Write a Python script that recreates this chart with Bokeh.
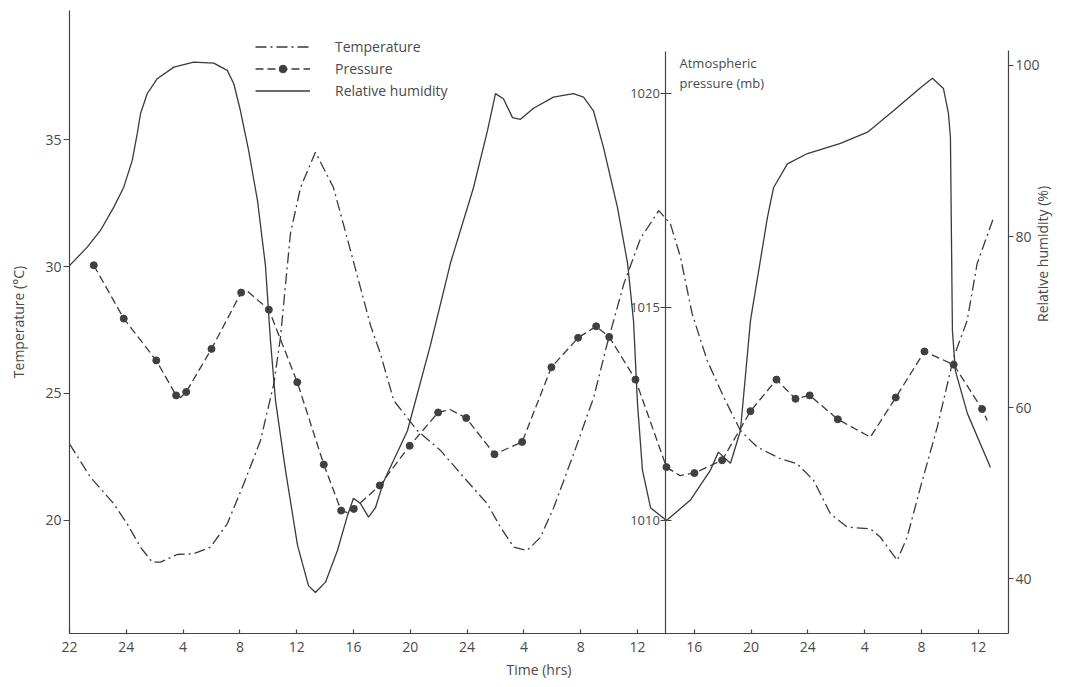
import math
from bokeh.plotting import figure
from bokeh.models import Range1d, LinearAxis, FixedTicker, Label, Legend, LegendItem
from bokeh.embed import file_html
from bokeh.resources import INLINE

# ---------------- data (hours from the first tick, 4 h per tick) ----------------
tick_hours = [0, 4, 8, 12, 16, 20, 24, 28, 32, 36, 40, 44, 48, 52, 56, 60, 64]
tick_labels = ["22", "24", "4", "8", "12", "16", "20", "24", "4", "8", "12", "16", "20", "24", "4", "8", "12"]

temp_hours = [0, 1.48, 3.10, 4.06, 5.0, 5.82, 6.41, 7.58, 8.75, 9.93, 11.11, 12.27, 13.45, 14.39, 14.86,
              15.56, 16.27, 17.32, 18.59, 19.79, 20.49, 21.20, 21.90, 22.84, 24.49, 26.13, 27.77, 29.42,
              30.35, 31.29, 32.23, 33.17, 34.11, 35.51, 36.92, 37.87, 39.04, 40.21, 41.50, 42.32, 43.03,
              43.85, 44.91, 46.08, 47.25, 48.43, 50.07, 51.25, 52.42, 53.59, 54.77, 56.41, 57.11, 58.29,
              58.99, 59.93, 61.11, 62.27, 63.22, 63.92, 65.09]
temp_c = [23.02, 21.70, 20.67, 19.87, 18.95, 18.36, 18.36, 18.66, 18.69, 18.95, 19.87, 21.44, 23.15, 25.38, 27.22,
          31.30, 33.11, 34.50, 33.11, 30.63, 29.17, 27.68, 26.56, 24.72, 23.54, 22.76, 21.70, 20.66,
          19.74, 18.95, 18.82, 19.34, 20.52, 22.63, 24.85, 26.96, 29.32, 31.10, 32.20, 31.68, 30.37,
          28.14, 26.30, 24.85, 23.54, 22.89, 22.43, 22.23, 21.57, 20.26, 19.74, 19.67, 19.34, 18.43,
          19.34, 21.31, 23.67, 26.43, 27.87, 30.11, 31.94]

press_hours = [1.71, 3.82, 6.11, 7.51, 8.22, 10.0, 12.09, 14.04, 16.04, 17.91, 19.13, 20.02, 21.85, 23.96,
               25.96, 27.94, 29.93, 31.88, 33.94, 35.82, 37.09, 38.01, 39.86, 42.04, 44.01, 45.96, 47.96,
               49.79, 51.13, 52.13, 54.11, 58.19, 60.21, 62.27, 64.27]
press_mb = [1015.98, 1014.73, 1013.75, 1012.93, 1013.01, 1014.02, 1015.34, 1014.94, 1013.24, 1011.31, 1010.23,
            1010.27, 1010.82, 1011.75, 1012.53, 1012.40, 1011.55, 1011.84, 1013.59, 1014.28, 1014.55, 1014.30,
            1013.30, 1011.25, 1011.11, 1011.41, 1012.56, 1013.30, 1012.85, 1012.93, 1012.37, 1012.88, 1013.96,
            1013.65, 1012.61]

press_line_hours = [1.71, 3.82, 6.11, 7.51, 7.82, 8.22, 10.0, 12.09, 12.5, 14.04, 16.04, 17.91, 19.13, 19.6,
                    20.02, 21.85, 23.96, 25.96, 26.8, 27.94, 29.93, 31.88, 33.94, 35.82, 37.09, 38.01, 39.86,
                    42.04, 43.0, 44.01, 45.96, 47.96, 49.79, 51.13, 52.13, 54.11, 56.4, 58.19, 60.21, 62.27,
                    64.27, 64.63]
press_line_mb = [1015.98, 1014.73, 1013.75, 1012.93, 1012.88, 1013.01, 1014.02, 1015.34, 1015.38, 1014.94,
                 1013.24, 1011.31, 1010.23, 1010.18, 1010.27, 1010.82, 1011.75, 1012.53, 1012.60, 1012.40,
                 1011.55, 1011.84, 1013.59, 1014.28, 1014.55, 1014.30, 1013.30, 1011.25, 1011.05, 1011.11,
                 1011.41, 1012.56, 1013.30, 1012.85, 1012.93, 1012.37, 1011.95, 1012.88, 1013.96, 1013.65,
                 1012.61, 1012.34]

hum_hours = [0, 1.25, 2.18, 3.12, 3.82, 4.42, 4.77, 5.0, 5.47, 6.18, 7.35, 8.75, 10.16, 11.11, 11.57,
             12.04, 12.61, 13.24, 13.80,
             14.15, 14.51, 15.21, 16.06, 16.83, 17.32, 18.03, 18.87, 19.58, 20.0, 20.49, 21.06, 21.55, 22.11,
             23.80, 25.42, 26.83, 28.45, 29.44, 30.0, 30.56, 31.20, 31.76, 32.68, 34.08, 35.49, 36.20, 36.90,
             37.61, 38.59, 39.30, 39.72, 40.00, 40.35, 40.92, 42.04, 43.73, 45.14, 45.70, 46.55, 47.25, 47.96,
             49.15, 49.58, 50.56, 51.97, 54.30, 56.20, 58.03, 59.93, 60.77, 61.55, 61.90, 62.04, 62.18, 62.39,
             63.24, 64.86]
hum_pct = [76.6, 78.76, 80.71, 83.44, 85.77, 88.9, 92.02, 94.35, 96.69, 98.45, 99.8, 100.39, 100.27, 99.42, 97.86,
           94.7, 90.1, 84.2, 76.6,
           67.9, 60.8, 52.7, 43.9, 39.2, 38.4, 39.6, 43.3, 47.4, 49.4, 48.8, 47.2, 48.3, 51.3,
           57.3, 67.3, 76.9, 85.7, 92.4, 96.7, 96.1, 93.9, 93.7, 95.0, 96.3, 96.7, 96.3, 94.7,
           90.4, 83.4, 76.9, 70.2, 60.5, 52.7, 48.3, 46.8, 49.2, 52.7, 54.8, 53.5, 57.3, 70.2,
           82.2, 85.7, 88.5, 89.7, 90.9, 92.2, 94.7, 97.4, 98.5, 97.3, 94.4, 91.6, 69.0, 64.3,
           59.3, 53.0]

temp_ticks = [20, 25, 30, 35]
press_ticks = [1010, 1015, 1020]
hum_ticks = [40, 60, 80, 100]

# ---------------- styling ----------------
FONT = "Open Sans"
INK = "#3a3a3a"
TXT = "#4a4a4a"

p = figure(frame_width=939, frame_height=623,
           x_range=Range1d(0, 66.13), y_range=Range1d(15.55, 40.08),
           output_backend="svg", toolbar_location=None,
           min_border_left=69, min_border_right=60, min_border_top=10, min_border_bottom=54)
p.extra_y_ranges = {"press": Range1d(1007.35, 1021.95), "hum": Range1d(33.6, 106.42)}
p.grid.visible = False
p.outline_line_color = None
p.background_fill_color = "white"
p.border_fill_color = "white"


def style_axis(ax, size="14px"):
    ax.axis_line_color = "#444444"
    ax.axis_line_width = 1.2
    ax.major_tick_line_color = "#444444"
    ax.major_tick_line_width = 1.2
    ax.minor_tick_line_color = None
    ax.major_label_text_font = FONT
    ax.major_label_text_font_size = size
    ax.major_label_text_color = TXT
    ax.axis_label_text_font = FONT
    ax.axis_label_text_font_size = "14px"
    ax.axis_label_text_color = TXT
    ax.axis_label_text_font_style = "normal"


xa = p.xaxis[0]
style_axis(xa)
xa.ticker = FixedTicker(ticks=tick_hours)
xa.major_label_overrides = {h: lab for h, lab in zip(tick_hours, tick_labels)}
xa.major_tick_in = 4
xa.major_tick_out = 0
xa.major_label_standoff = 8
xa.axis_label = "Time (hrs)"
xa.axis_label_standoff = 5

ya = p.yaxis[0]
style_axis(ya)
ya.ticker = FixedTicker(ticks=temp_ticks)
ya.major_tick_in = 0
ya.major_tick_out = 6
ya.major_label_standoff = 2
ya.axis_label = "Temperature (°C)"
ya.axis_label_standoff = 14

pa = LinearAxis(y_range_name="press", fixed_location=42.0, ticker=FixedTicker(ticks=press_ticks),
                bounds=(1007.35, 1021.0))
style_axis(pa, "13px")
pa.major_tick_in = 6
pa.major_tick_out = 5
pa.major_label_standoff = 1
p.add_layout(pa, "left")

ha = LinearAxis(y_range_name="hum", ticker=FixedTicker(ticks=hum_ticks), bounds=(33.6, 101.7))
style_axis(ha)
ha.major_tick_in = 0
ha.major_tick_out = 5
ha.major_label_standoff = 2
ha.axis_label = "Relative humidity (%)"
ha.axis_label_standoff = 0
if hasattr(ha, "axis_label_orientation"):
    ha.axis_label_orientation = math.pi / 2
p.add_layout(ha, "right")

# ---------------- series ----------------
t_r = p.line(temp_hours, temp_c, line_color=INK, line_width=1.3, line_dash="11 4 2 4")
pl_r = p.line(press_line_hours, press_line_mb, y_range_name="press", line_color=INK, line_width=1.3,
              line_dash="8 4")
pd_r = p.scatter(press_hours, press_mb, y_range_name="press", marker="circle", size=7,
                 fill_color="#404040", line_color="#404040")
h_r = p.line(hum_hours, hum_pct, y_range_name="hum", line_color=INK, line_width=1.3)

legend = Legend(items=[LegendItem(label="Temperature", renderers=[t_r]),
                       LegendItem(label="Pressure", renderers=[pl_r, pd_r]),
                       LegendItem(label="Relative humidity", renderers=[h_r])],
                location=(186, 533), glyph_width=55, glyph_height=19, label_height=19,
                label_standoff=25, spacing=3, padding=0, margin=0,
                border_line_color=None, background_fill_alpha=0,
                label_text_font=FONT, label_text_font_size="14px", label_text_color=TXT)
p.add_layout(legend)

# ---------------- text labels ----------------
p.add_layout(Label(x=42.96, y=1020.71, y_range_name="press", text="Atmospheric", text_font=FONT,
                   text_font_size="13px", text_color=TXT, text_baseline="alphabetic"))
p.add_layout(Label(x=42.96, y=1020.26, y_range_name="press", text="pressure (mb)", text_font=FONT,
                   text_font_size="13px", text_color=TXT, text_baseline="alphabetic"))

open("out.html", "w").write(file_html(p, INLINE))
